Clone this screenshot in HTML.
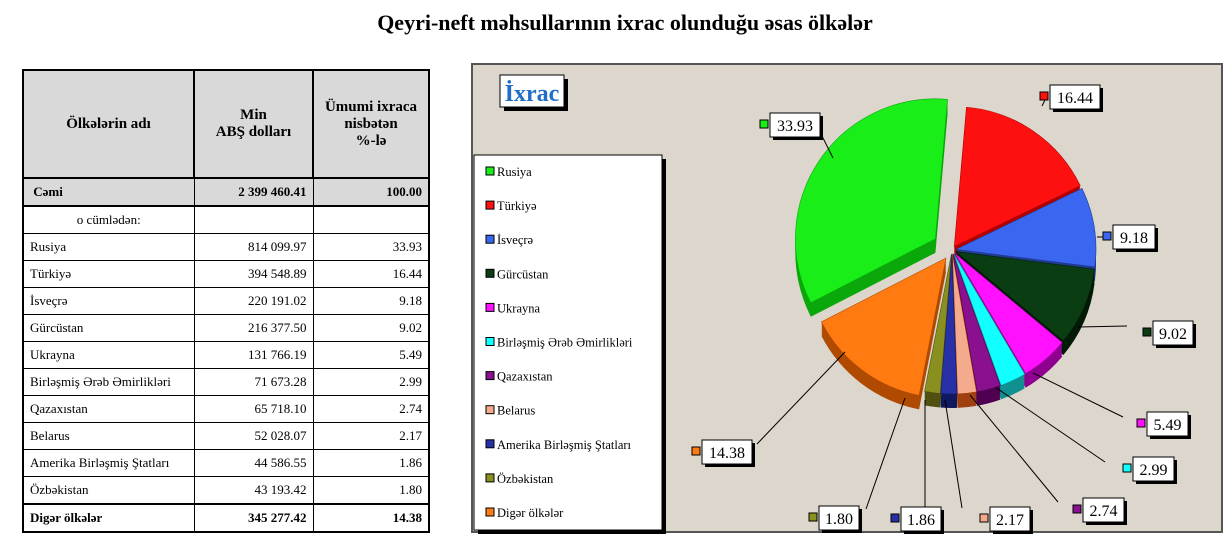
<!DOCTYPE html>
<html><head><meta charset="utf-8"><style>
body{margin:0;width:1232px;height:557px;background:#fff;font-family:"Liberation Serif",serif;position:relative;overflow:hidden}
h1{position:absolute;left:0;width:1250px;top:10px;margin:0;text-align:center;font-size:22px;font-weight:bold}
table{position:absolute;left:22px;top:69px;border-collapse:collapse;font-size:13px}
td{border:1px solid #000;padding:0 6px;height:26px}
tr.h td{background:#d9d9d9;font-weight:bold;font-size:15px;text-align:center;height:106px;border:2px solid #000}
tr.c td{background:#d9d9d9;font-weight:bold;border-top:2px solid #000;border-bottom:2px solid #000}
tr.d td{font-weight:bold;border-top:2px solid #000}
td.n{text-align:right}
table{border:2px solid #000}
</style></head><body>
<h1>Qeyri-neft məhsullarının ixrac olunduğu əsas ölkələr</h1>
<table>
<colgroup><col style="width:171px"><col style="width:119px"><col style="width:116px"></colgroup>
<tr class="h"><td>Ölkələrin adı</td><td>Min<br>ABŞ dolları</td><td>Ümumi ixraca<br>nisbətən<br>%-lə</td></tr>
<tr class="c"><td>&nbsp;Cəmi</td><td class="n">2 399 460.41</td><td class="n">100.00</td></tr>
<tr><td style="text-align:center">o cümlədən:</td><td></td><td></td></tr>
<tr><td>Rusiya</td><td class="n">814 099.97</td><td class="n">33.93</td></tr>
<tr><td>Türkiyə</td><td class="n">394 548.89</td><td class="n">16.44</td></tr>
<tr><td>İsveçrə</td><td class="n">220 191.02</td><td class="n">9.18</td></tr>
<tr><td>Gürcüstan</td><td class="n">216 377.50</td><td class="n">9.02</td></tr>
<tr><td>Ukrayna</td><td class="n">131 766.19</td><td class="n">5.49</td></tr>
<tr><td>Birləşmiş Ərəb Əmirlikləri</td><td class="n">71 673.28</td><td class="n">2.99</td></tr>
<tr><td>Qazaxıstan</td><td class="n">65 718.10</td><td class="n">2.74</td></tr>
<tr><td>Belarus</td><td class="n">52 028.07</td><td class="n">2.17</td></tr>
<tr><td>Amerika Birləşmiş Ştatları</td><td class="n">44 586.55</td><td class="n">1.86</td></tr>
<tr><td>Özbəkistan</td><td class="n">43 193.42</td><td class="n">1.80</td></tr>
<tr class="d"><td>Digər ölkələr</td><td class="n">345 277.42</td><td class="n">14.38</td></tr>
</table>
<svg id="s" width="1232" height="557" style="position:absolute;left:0;top:0" font-family="Liberation Serif, serif">
<rect x="472" y="64" width="750" height="468" fill="#ddd6cc" stroke="#555" stroke-width="2"/>
<rect x="504" y="79" width="64" height="32" fill="#000"/>
<rect x="500" y="75" width="64" height="32" fill="#fff" stroke="#000"/>
<text x="532" y="101" text-anchor="middle" font-size="24" font-weight="bold" fill="#1f6fc8">İxrac</text>
<rect x="478" y="159" width="188" height="375" fill="#000"/>
<rect x="474" y="155" width="188" height="375" fill="#fff" stroke="#000"/>
<g id="pie"></g><g id="lab"></g><g id="leg"></g>
</svg>
<script>
var d=[["Rusiya",33.93,"#19ee19","#0aa80a"],["Türkiyə",16.44,"#ff1010","#b00000"],["İsveçrə",9.18,"#3a66f0","#203c90"],["Gürcüstan",9.02,"#0a3d12","#021a06"],["Ukrayna",5.49,"#ff10ff","#900090"],["Birləşmiş Ərəb Əmirlikləri",2.99,"#10ffff","#109090"],["Qazaxıstan",2.74,"#8a1090","#500050"],["Belarus",2.17,"#f4aa8c","#a04010"],["Amerika Birləşmiş Ştatları",1.86,"#2830a8","#101860"],["Özbəkistan",1.80,"#8a9020","#505010"],["Digər ölkələr",14.38,"#ff7a10","#b04a00"]];
var order=[1,2,3,4,5,6,7,8,9,10,0];
var cx=952,cy=250,rx=140,ry=140,dep=14,ns="http://www.w3.org/2000/svg";
var pie=document.getElementById("pie"),a=-85,sl=[];
order.forEach(function(i){var s=d[i][1]*3.6;sl.push([i,a,a+s]);a+=s;});
function P(t,o,c){var r=t*Math.PI/180;return [c[0]+rx*Math.cos(r),c[1]+ry*Math.sin(r)];}
function path(s,e,c,dy){var p=[c[0],c[1]+dy],q=P(s,0,p),w=P(e,0,p);return "M"+p[0]+","+p[1]+"L"+q[0]+","+q[1]+"A"+rx+","+ry+" 0 "+((e-s)>180?1:0)+" 1 "+w[0]+","+w[1]+"Z";}
function el(t,at,par){var x=document.createElementNS(ns,t);for(var k in at)x.setAttribute(k,at[k]);(par||pie).appendChild(x);return x;}
var cen={};
sl.forEach(function(z){var m=(z[1]+z[2])/2*Math.PI/180,ex=z[0]==0?20:(z[0]==10?10:4);cen[z[0]]=[cx+ex*Math.cos(m),cy+ex*Math.sin(m)];});
sl.forEach(function(z){var c=cen[z[0]];for(var k=dep;k>0;k-=2)el("path",{d:path(z[1],z[2],c,k),fill:d[z[0]][3]});});
sl.forEach(function(z){el("path",{d:path(z[1],z[2],cen[z[0]],0),fill:d[z[0]][2],stroke:d[z[0]][3],"stroke-width":"0.6"});});
var lab=document.getElementById("lab");
var L=[[0,770,113,50,"33.93",[822,136],[833,158]],[1,1050,85,50,"16.44",[1045,100],[1042,106]],[2,1113,225,42,"9.18",[1103,237],[1097,237]],[3,1153,321,40,"9.02",[1127,326],[1078,327]],[4,1147,412,41,"5.49",[1123,417],[1033,373]],[5,1133,457,41,"2.99",[1105,462],[995,387]],[6,1083,498,41,"2.74",[1058,502],[970,395]],[7,990,507,40,"2.17",[962,508],[945,400]],[8,901,507,40,"1.86",[925,510],[925,400]],[9,819,506,40,"1.80",[866,509],[905,398]],[10,702,440,50,"14.38",[757,444],[845,352]]];
L.forEach(function(l){var x=l[1],y=l[2],w=l[3];
el("line",{x1:l[5][0],y1:l[5][1],x2:l[6][0],y2:l[6][1],stroke:"#000"},lab);
el("rect",{x:x+3,y:y+3,width:w,height:24,fill:"#000"},lab);
el("rect",{x:x,y:y,width:w,height:24,fill:"#fff",stroke:"#000"},lab);
var t=el("text",{x:x+w/2,y:y+18,"text-anchor":"middle","font-size":"16"},lab);t.textContent=l[4];
el("rect",{x:x-10,y:y+7,width:8,height:8,fill:d[l[0]][2],stroke:"#000"},lab);});
var leg=document.getElementById("leg");
d.forEach(function(r,i){var y=172+i*34.1;el("rect",{x:486,y:y-5,width:8,height:8,fill:r[2],stroke:"#000"},leg);var t=el("text",{x:497,y:y+4,"font-size":"12.5"},leg);t.textContent=r[0];});
</script>
</body></html>
